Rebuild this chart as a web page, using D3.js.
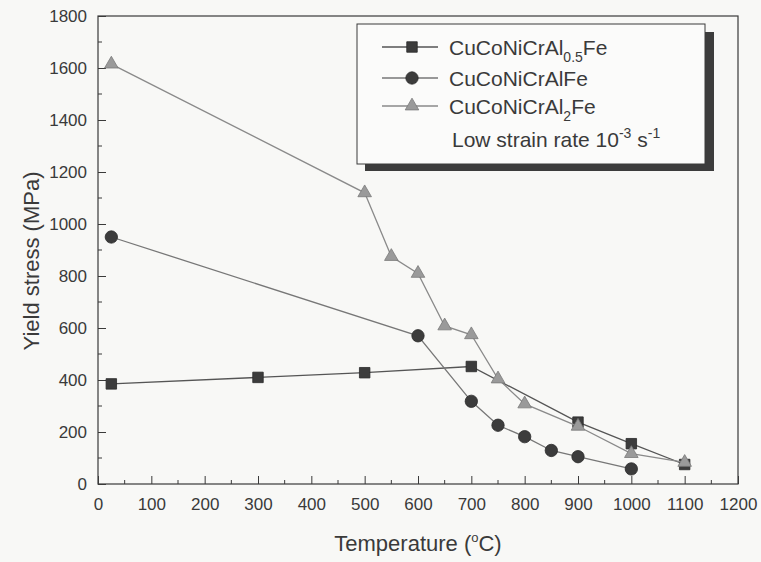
<!DOCTYPE html>
<html>
<head>
<meta charset="utf-8">
<script src="https://cdn.jsdelivr.net/npm/d3@7"></script>
<style>
  body { margin: 0; background: #f8f8f6; }
  text { font-family: "Liberation Sans", Arial, sans-serif; fill: #3a3a3a; }
</style>
</head>
<body>
<div id="chart"></div>
<script>
// data
const tempAl05 = [25, 300, 500, 700, 900, 1000, 1100];
const stressAl05 = [385, 410, 428, 452, 238, 155, 75];

const tempAl1 = [25, 600, 700, 750, 800, 850, 900, 1000];
const stressAl1 = [950, 570, 318, 226, 182, 129, 105, 58];

const tempAl2 = [25, 500, 550, 600, 650, 700, 750, 800, 900, 1000, 1100];
const stressAl2 = [1615, 1120, 875, 810, 608, 574, 404, 308, 222, 117, 83];

const xTicks = d3.range(0, 1201, 100);
const yTicks = d3.range(0, 1801, 200);

var width = 761, height = 562;
var margin = {top: 16, right: 23, bottom: 78, left: 98};

var svg = d3.select("#chart")
  .append("svg")
    .attr("width", width)
    .attr("height", height);

var x = d3.scaleLinear().domain([0, 1200]).range([margin.left, width - margin.right]);
var y = d3.scaleLinear().domain([0, 1800]).range([height - margin.bottom, margin.top]);

var ink = "#3a3a3a";

// frame
svg.append("rect")
  .attr("x", x(0)).attr("y", y(1800))
  .attr("width", x(1200) - x(0)).attr("height", y(0) - y(1800))
  .attr("fill", "none").attr("stroke", ink).attr("stroke-width", 1.2);

// x axis, inward ticks
var xAxis = svg.append("g")
  .attr("transform", "translate(0," + y(0) + ")")
  .call(d3.axisBottom(x).tickValues(xTicks).tickFormat(d3.format("d"))
    .tickSizeInner(-8).tickSizeOuter(0).tickPadding(14));
xAxis.select(".domain").remove();
xAxis.selectAll("line").attr("stroke", ink);
xAxis.selectAll("text").style("font-size", "17px").attr("fill", ink);
xAxis.selectAll(".minor").data(d3.range(50, 1200, 100)).enter()
  .append("line").attr("class", "minor")
  .attr("x1", d => x(d)).attr("x2", d => x(d))
  .attr("y1", 0).attr("y2", -4).attr("stroke", ink);

// y axis, inward ticks
var yAxis = svg.append("g")
  .attr("transform", "translate(" + x(0) + ",0)")
  .call(d3.axisLeft(y).tickValues(yTicks).tickFormat(d3.format("d"))
    .tickSizeInner(-8).tickSizeOuter(0).tickPadding(11));
yAxis.select(".domain").remove();
yAxis.selectAll("line").attr("stroke", ink);
yAxis.selectAll("text").style("font-size", "17px").attr("fill", ink);
yAxis.selectAll(".minor").data(d3.range(100, 1800, 200)).enter()
  .append("line").attr("class", "minor")
  .attr("y1", d => y(d)).attr("y2", d => y(d))
  .attr("x1", 0).attr("x2", 4).attr("stroke", ink);

// axis titles
var xt = svg.append("text")
  .attr("x", (x(0) + x(1200)) / 2).attr("y", 551)
  .attr("text-anchor", "middle").style("font-size", "22px");
xt.append("tspan").text("Temperature (");
xt.append("tspan").attr("dy", -9).style("font-size", "13px").text("o");
xt.append("tspan").attr("dy", 9).text("C)");

svg.append("text")
  .attr("transform", "translate(39,261) rotate(-90)")
  .attr("text-anchor", "middle").style("font-size", "22px")
  .text("Yield stress (MPa)");

// series
var series = [
  {t: tempAl05, s: stressAl05, shape: d3.symbolSquare, size: 110, fill: "#3c3c3c", line: "#555"},
  {t: tempAl1, s: stressAl1, shape: d3.symbolCircle, size: 120, fill: "#3c3c3c", line: "#777"},
  {t: tempAl2, s: stressAl2, shape: d3.symbolTriangle, size: 80, fill: "#9a9a9a", line: "#8a8a8a"}
];

series.forEach(function (sr) {
  var pts = d3.range(sr.t.length).map(i => [sr.t[i], sr.s[i]]);
  svg.append("path")
    .datum(pts)
    .attr("fill", "none")
    .attr("stroke", sr.line)
    .attr("stroke-width", 1.3)
    .attr("d", d3.line().x(d => x(d[0])).y(d => y(d[1])));
  svg.append("g").selectAll("path")
    .data(pts).enter()
    .append("path")
      .attr("transform", d => "translate(" + x(d[0]) + "," + y(d[1]) + ")")
      .attr("d", d3.symbol().type(sr.shape).size(sr.size))
      .attr("fill", sr.fill)
      .attr("stroke", sr.fill === "#9a9a9a" ? "#7a7a7a" : "#2a2a2a")
      .attr("stroke-width", 0.8);
});

// legend
var lg = svg.append("g");
lg.append("rect").attr("x", 365).attr("y", 32).attr("width", 349).attr("height", 139).attr("fill", "#3c3c3c");
lg.append("rect").attr("x", 357).attr("y", 24).attr("width", 348).attr("height", 140)
  .attr("fill", "#fbfbfa").attr("stroke", ink).attr("stroke-width", 1);

var names = [["CuCoNiCrAl", "0.5", "Fe"], ["CuCoNiCrAlFe", "", ""], ["CuCoNiCrAl", "2", "Fe"]];
var rowY = [47, 78, 106];
series.forEach(function (sr, i) {
  var ry = rowY[i];
  lg.append("line").attr("x1", 382).attr("x2", 438).attr("y1", ry).attr("y2", ry)
    .attr("stroke", sr.line).attr("stroke-width", 1.3);
  lg.append("path")
    .attr("transform", "translate(412," + ry + ")")
    .attr("d", d3.symbol().type(sr.shape).size(sr.size))
    .attr("fill", sr.fill)
    .attr("stroke", sr.fill === "#9a9a9a" ? "#7a7a7a" : "#2a2a2a")
    .attr("stroke-width", 0.8);
  var t = lg.append("text").attr("x", 449).attr("y", ry + 8).style("font-size", "21px");
  t.append("tspan").text(names[i][0]);
  if (names[i][1]) {
    t.append("tspan").attr("dy", 7).style("font-size", "14px").text(names[i][1]);
    t.append("tspan").attr("dy", -7).text(names[i][2]);
  }
});

var lr = lg.append("text").attr("x", 452).attr("y", 147).style("font-size", "21px");
lr.append("tspan").text("Low strain rate 10");
lr.append("tspan").attr("dy", -9).style("font-size", "14px").text("-3");
lr.append("tspan").attr("dy", 9).text(" s");
lr.append("tspan").attr("dy", -9).style("font-size", "14px").text("-1");
</script>
</body>
</html>
